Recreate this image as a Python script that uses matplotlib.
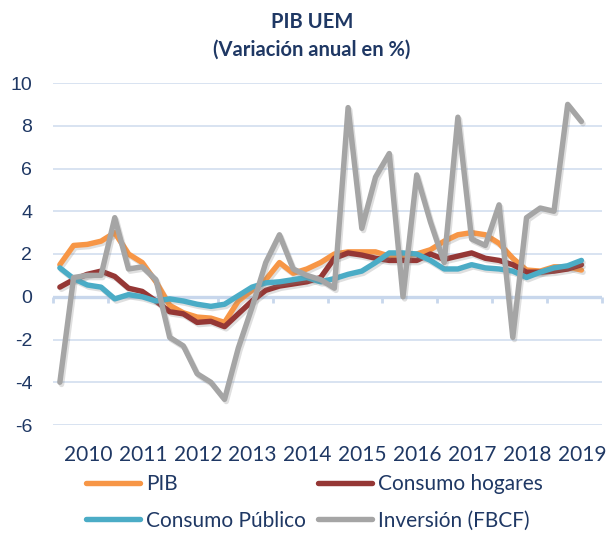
import matplotlib
matplotlib.use("Agg")
import matplotlib.pyplot as plt
import matplotlib.patheffects as pe
from matplotlib.lines import Line2D
import numpy as np

# ---- data (quarterly, 2010Q1 .. 2019Q3) ----
years = ["2010", "2011", "2012", "2013", "2014", "2015", "2016", "2017", "2018", "2019"]
pib = [1.5, 2.4, 2.45, 2.6, 3.0, 2.0, 1.6, 0.7, -0.4, -0.75, -0.95, -1.0, -1.2, -0.2,
       0.3, 0.8, 1.6, 1.1, 1.3, 1.6, 2.0, 2.1, 2.1, 2.1, 1.9, 1.9, 2.0, 2.2, 2.6, 2.9,
       3.0, 2.9, 2.5, 1.8, 1.25, 1.2, 1.4, 1.4, 1.25]
consumo_hogares = [0.45, 0.8, 1.05, 1.2, 0.95, 0.4, 0.25, -0.2, -0.7, -0.8, -1.2, -1.15,
                   -1.4, -0.8, -0.2, 0.3, 0.5, 0.6, 0.7, 0.9, 1.8, 2.05, 1.95, 1.8, 1.7,
                   1.7, 1.7, 2.0, 1.75, 1.9, 2.05, 1.8, 1.7, 1.5, 1.15, 1.15, 1.2, 1.3, 1.5]
consumo_publico = [1.35, 0.85, 0.55, 0.45, -0.1, 0.1, 0.0, -0.2, -0.1, -0.2, -0.35, -0.45,
                   -0.35, 0.05, 0.45, 0.65, 0.7, 0.8, 0.9, 0.7, 0.85, 1.05, 1.2, 1.6, 2.05,
                   2.05, 2.0, 1.7, 1.3, 1.3, 1.5, 1.35, 1.3, 1.2, 0.9, 1.15, 1.35, 1.45, 1.7]
inversion = [-4.0, 0.9, 1.0, 1.0, 3.7, 1.3, 1.4, 0.8, -1.9, -2.3, -3.6, -4.0, -4.8, -2.4,
             -0.5, 1.6, 2.9, 1.3, 1.0, 0.8, 0.4, 8.85, 3.2, 5.6, 6.7, 0.0, 5.7, 3.5, 1.6,
             8.4, 2.7, 2.4, 4.3, -1.9, 3.7, 4.15, 4.0, 9.0, 8.2]

series = [
    ("PIB", pib, "#F79646"),
    ("Consumo hogares", consumo_hogares, "#953735"),
    ("Consumo Público", consumo_publico, "#4BACC6"),
    ("Inversión (FBCF)", inversion, "#A5A5A5"),
]

TXT = "#1F3864"
W, H = 607, 534
fig = plt.figure(figsize=(W / 100, H / 100), dpi=100)
ax = fig.add_axes([53 / W, 1 - 425 / H, (602 - 53) / W, (425 - 83) / H])

n_slots = len(years) * 4
x = np.arange(len(pib))

for y in range(-6, 11, 2):
    if y == 0:
        continue
    ax.axhline(y, color="#D6E1F0", lw=1.3, zorder=1)
ax.axhline(0, color="#C8D7EC", lw=2.4, zorder=1.5)

shadow = [pe.SimpleLineShadow(offset=(1.2, -1.6), shadow_color="#808080", alpha=0.25),
          pe.Normal()]
for name, vals, col in series:
    ax.plot(x, vals, color=col, lw=3.9, solid_joinstyle="round",
            solid_capstyle="round", zorder=3, path_effects=shadow, label=name)

ax.set_xlim(-0.5, n_slots - 0.5)
ax.set_ylim(-6, 10)

# category axis at zero with boundary tick marks
ax.spines["bottom"].set_position(("data", 0))
ax.spines["bottom"].set_visible(False)
for s in ["top", "right", "left"]:
    ax.spines[s].set_visible(False)
bounds = np.arange(-0.5, n_slots, 4)
ax.set_xticks(bounds)
ax.set_xticklabels([])
ax.tick_params(axis="x", length=4, width=2, color="#C8D7EC", direction="out")

ax.set_yticks(range(-6, 11, 2))
ax.set_yticklabels([str(v) for v in range(-6, 11, 2)],
                   fontfamily="Liberation Sans", fontsize=14, color=TXT)
ax.tick_params(axis="y", length=0, pad=15)

trans = ax.get_xaxis_transform()
for k, yr in enumerate(years):
    ax.text(4 * k + 1.5 + 0.55, -0.088, yr, transform=trans, ha="center", va="center",
            fontfamily="Lato", fontsize=15, color=TXT)

fig.text(312 / W, 1 - 22 / H, "PIB UEM", ha="center", va="center",
         fontfamily="Lato", fontweight="bold", fontsize=14.5, color=TXT)
fig.text(312 / W, 1 - 50 / H, "(Variación anual en %)", ha="center", va="center",
         fontfamily="Lato", fontweight="bold", fontsize=14.5, color=TXT)

handles = {name: Line2D([], [], color=col, lw=3.9, solid_capstyle="round")
           for name, vals, col in series}
order = ["PIB", "Consumo Público", "Consumo hogares", "Inversión (FBCF)"]
leg = fig.legend([handles[o] for o in order], order, ncol=2, loc="upper left",
                 bbox_to_anchor=(86 / W, 1 - 474 / H), frameon=False,
                 prop={"family": "Lato", "size": 15}, handlelength=2.6,
                 handletextpad=0.3, columnspacing=0.55, labelspacing=0.8,
                 borderpad=0, borderaxespad=0)
for t in leg.get_texts():
    t.set_color(TXT)

fig.savefig("out.png", dpi=100)
